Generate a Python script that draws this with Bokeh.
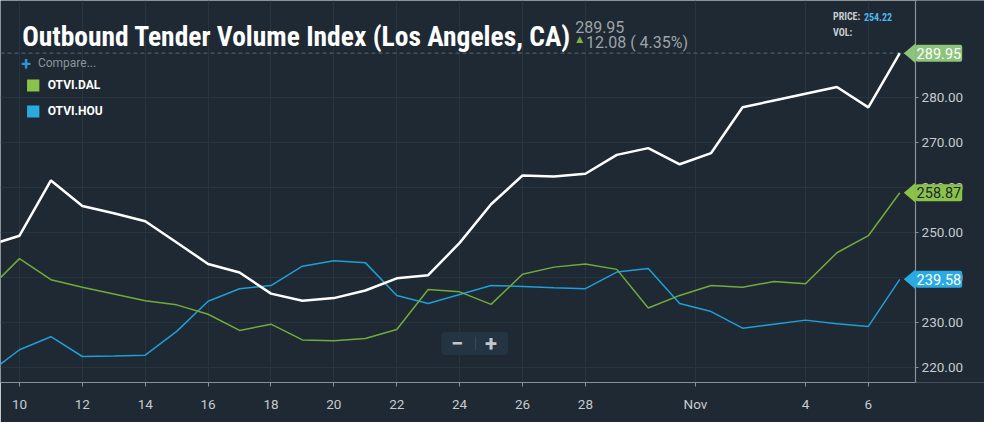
from bokeh.plotting import figure
from bokeh.models import (Range1d, FixedTicker, PrintfTickFormatter, Label, Span,
                          BoxAnnotation, PolyAnnotation)
from bokeh.embed import file_html
from bokeh.resources import INLINE

# ---------------- data ----------------
days = list(range(9, 39))  # Oct 9 .. Nov 7 as day index (Nov 1 = 32)
la_values = [247.1, 249.3, 261.6, 255.9, 254.3, 252.5, 247.8, 243.0, 241.1, 236.4,
             234.8, 235.4, 237.1, 239.8, 240.5, 247.7, 256.3, 262.7, 262.5, 263.1,
             267.3, 268.8, 265.2, 267.7, 277.9, 279.4, 280.9, 282.4, 277.87, 289.95]
dal_values = [237.2, 244.2, 239.5, 237.8, 236.3, 234.8, 233.9, 231.8, 228.2, 229.6,
              226.1, 225.9, 226.4, 228.4, 237.3, 236.8, 234.0, 240.7, 242.3, 243.0,
              241.8, 233.2, 236.0, 238.2, 237.8, 239.1, 238.6, 245.5, 249.3, 258.87]
hou_values = [218.6, 223.9, 226.8, 222.4, 222.5, 222.7, 228.0, 234.7, 237.5, 238.2,
              242.5, 243.7, 243.3, 236.0, 234.2, 236.2, 238.2, 238.0, 237.7, 237.5,
              241.2, 242.0, 234.2, 232.4, 228.7, 229.6, 230.5, 229.7, 229.1, 239.58]
x_tick_pos = [10, 12, 14, 16, 18, 20, 22, 24, 26, 28, 31.5, 35, 37]
x_tick_labels = ["10", "12", "14", "16", "18", "20", "22", "24", "26", "28", "Nov", "4", "6"]
y_ticks = [220, 230, 240, 250, 260, 270, 280]
title_text = "Outbound Tender Volume Index (Los Angeles, CA)"
series_names = ["OTVI.DAL", "OTVI.HOU"]
price_text = "254.22"

# ---------------- layout ----------------
W, H = 984, 422
SX, SY = W / 1000, H / 438          # reference-pixel -> figure-pixel
FW, FH = 984, 382                   # frame size (frame spans full width)
BORDER_B = H - FH
X0, X1 = 9.396, 40.695
Y0, Y1 = 216.61, 301.67


def px2x(rx):
    return X0 + rx * SX / FW * (X1 - X0)


def px2y(ry):
    return Y1 - ry * SY / FH * (Y1 - Y0)


DY = (Y1 - Y0) / FH  # data units per figure pixel (y)
AXIS_X = px2x(930)   # where the price axis sits

BG = "#1e2933"
GRID = "#27353f"
AXIS = "#8a9298"
TICK_TXT = "#c6cbcf"
WHITE = "#ffffff"
GREEN = "#72ab3c"
BLUE = "#1f9fd8"
GREEN_SQ = "#8bc34a"
BLUE_SQ = "#29abe2"

p = figure(width=W, height=H, x_range=Range1d(X0, X1), y_range=Range1d(Y0, Y1),
           output_backend="svg", toolbar_location=None, y_axis_location="right",
           min_border_left=0, min_border_top=0, min_border_right=0,
           min_border_bottom=BORDER_B, background_fill_color=BG, border_fill_color=BG,
           outline_line_color=None)

# axes
xa = p.xaxis[0]
xa.ticker = FixedTicker(ticks=x_tick_pos)
xa.major_label_overrides = {t: l for t, l in zip(x_tick_pos, x_tick_labels)}
xa.bounds = (X0, AXIS_X)
xa.axis_line_color = AXIS
xa.major_tick_line_color = AXIS
xa.major_tick_out = 4
xa.major_tick_in = 0
xa.minor_tick_line_color = None
xa.major_label_text_color = TICK_TXT
xa.major_label_text_font = "Roboto"
xa.major_label_text_font_size = "13.5px"
xa.major_label_standoff = 9

ya = p.yaxis[0]
ya.fixed_location = AXIS_X
ya.ticker = FixedTicker(ticks=y_ticks)
ya.formatter = PrintfTickFormatter(format="%.2f")
ya.axis_line_color = AXIS
ya.axis_line_width = 1.2
ya.major_tick_line_color = AXIS
ya.major_tick_out = 3
ya.major_tick_in = 0
ya.minor_tick_line_color = None
ya.major_label_text_color = TICK_TXT
ya.major_label_text_font = "Roboto"
ya.major_label_text_font_size = "13.5px"
ya.major_label_standoff = 3

p.xgrid.ticker = FixedTicker(ticks=x_tick_pos)
p.ygrid.ticker = FixedTicker(ticks=y_ticks)
p.xgrid.grid_line_color = GRID
p.ygrid.grid_line_color = GRID

# last-value dashed line
p.add_layout(Span(location=la_values[-1], dimension="width", line_color="#5a676f",
                  line_dash="4 3", line_width=1, level="underlay"))
# price-scale strip right of the axis (keeps grid/dash lines inside the plot area)
p.add_layout(BoxAnnotation(left=px2x(931), fill_color=BG, fill_alpha=1, line_color=None,
                           level="underlay"))

# series
p.line(days, hou_values, line_color=BLUE, line_width=1.5)
p.line(days, dal_values, line_color=GREEN, line_width=1.5)
p.line(days, la_values, line_color=WHITE, line_width=2.5)


# callouts at right
def callout(val, fill, txt_color):
    p.add_layout(PolyAnnotation(xs=[px2x(918), px2x(930), px2x(930)],
                                ys=[val, val + 10 * DY, val - 10 * DY],
                                fill_color=fill, fill_alpha=1, line_color=None))
    p.add_layout(Label(x=px2x(930), y=val, text=f"{val:.2f}", text_font="Roboto",
                       text_font_size="14.5px", text_color=txt_color,
                       text_baseline="middle", text_align="left",
                       background_fill_color=fill, background_fill_alpha=1,
                       padding=(1, 3), border_radius=2))


callout(la_values[-1], "#8cc47c", WHITE)
callout(dal_values[-1], GREEN_SQ, "#1b262e")
callout(hou_values[-1], BLUE_SQ, WHITE)

# title and header info
p.add_layout(Label(x=px2x(22), y=px2y(37), text=title_text, text_font="Roboto Condensed",
                   text_font_style="bold", text_font_size="27.5px", text_color=WHITE,
                   text_baseline="alphabetic"))
p.add_layout(Label(x=px2x(584), y=px2y(27), text=f"{la_values[-1]:.2f}", text_font="Roboto",
                   text_font_size="16px", text_color="#9ea3a8", text_baseline="alphabetic"))
chg = la_values[-1] - la_values[-2]
pct = chg / la_values[-2] * 100
p.add_layout(Label(x=px2x(585), y=px2y(40), text="▲", text_font="DejaVu Sans",
                   text_font_size="9px", text_color="#7cb342", text_baseline="middle"))
p.add_layout(Label(x=px2x(595), y=px2y(43.5), text=f"{chg:.2f} ( {pct:.2f}%)",
                   text_font="Roboto", text_font_size="16px", text_color="#9ea3a8",
                   text_baseline="alphabetic"))
p.add_layout(Label(x=px2x(846), y=px2y(16.7), text="PRICE:", text_font="Roboto Condensed",
                   text_font_style="bold", text_font_size="10px", text_color="#c8ccd0",
                   text_baseline="alphabetic"))
p.add_layout(Label(x=px2x(877.5), y=px2y(16.7), text=price_text, text_font="Roboto Condensed",
                   text_font_style="bold", text_font_size="10px", text_color="#4db6ec",
                   text_baseline="alphabetic"))
p.add_layout(Label(x=px2x(846), y=px2y(33.3), text="VOL:", text_font="Roboto Condensed",
                   text_font_style="bold", text_font_size="10px", text_color="#c8ccd0",
                   text_baseline="alphabetic"))

# legend / compare
p.add_layout(Label(x=px2x(21), y=px2y(65), text="+", text_font="Roboto",
                   text_font_style="bold", text_font_size="18px", text_color="#2f95d0",
                   text_baseline="middle"))
p.add_layout(Label(x=px2x(38), y=px2y(65), text="Compare...", text_font="Roboto",
                   text_font_size="12px", text_color="#8b949b", text_baseline="middle"))
for i, (name, col) in enumerate(zip(series_names, [GREEN_SQ, BLUE_SQ])):
    top = 82 + i * 27
    p.add_layout(BoxAnnotation(left=px2x(27), right=px2x(39.5), top=px2y(top),
                               bottom=px2y(top + 12.5), fill_color=col, fill_alpha=1,
                               line_color=None))
    p.add_layout(Label(x=px2x(48), y=px2y(top + 6), text=name, text_font="Roboto",
                       text_font_style="bold", text_font_size="12px", text_color=WHITE,
                       text_baseline="middle"))

# zoom buttons
p.add_layout(BoxAnnotation(left=px2x(448), right=px2x(516), top=px2y(344), bottom=px2y(368),
                           fill_color="#243443", fill_alpha=1, line_color=None,
                           border_radius=4))
p.add_layout(BoxAnnotation(left=px2x(482.3), right=px2x(483.3), top=px2y(349),
                           bottom=px2y(363), fill_color="#3b4b59", fill_alpha=1,
                           line_color=None))
p.add_layout(Label(x=px2x(464), y=px2y(356), text="−", text_font="Roboto",
                   text_font_style="bold", text_font_size="22px", text_color="#c2c7cc",
                   text_baseline="middle", text_align="center"))
p.add_layout(Label(x=px2x(498.5), y=px2y(356), text="+", text_font="Roboto",
                   text_font_style="bold", text_font_size="22px", text_color="#c2c7cc",
                   text_baseline="middle", text_align="center"))

open("out.html", "w").write(file_html(p, INLINE))
